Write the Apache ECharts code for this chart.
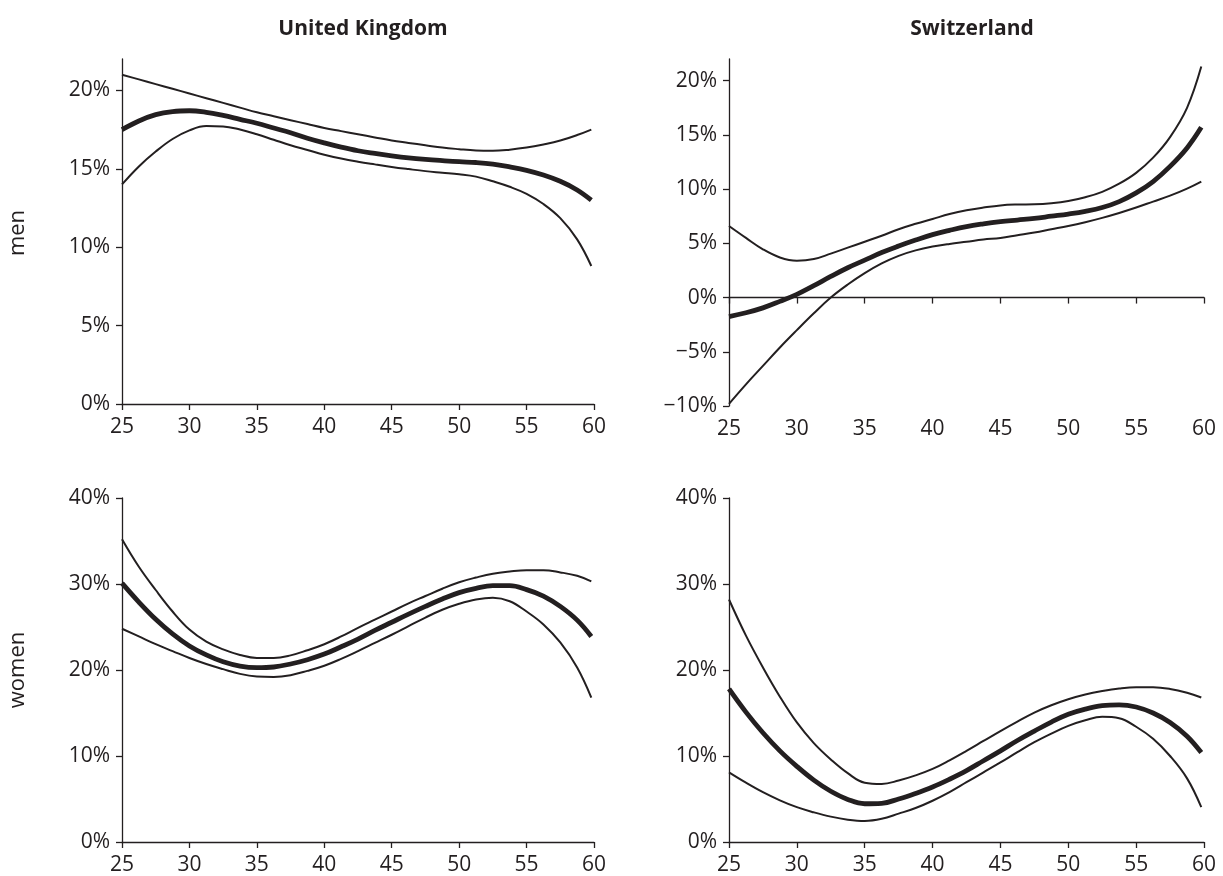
<!DOCTYPE html>
<html>
<head>
<meta charset="utf-8">
<script src="https://cdn.jsdelivr.net/npm/echarts@6/dist/echarts.min.js"></script>
<style>
html,body{margin:0;padding:0;background:#fff;}
#chart{width:1223px;height:876px;}
</style>
</head>
<body>
<div id="chart"></div>
<script>
// ---- data ----
const ages = [25, 26.25, 27.5, 28.75, 30, 31.25, 32.5, 33.75, 35, 36.25, 37.5, 38.75, 40, 41.25, 42.5,
              43.75, 45, 46.25, 47.5, 48.75, 50, 51.25, 52.5, 53.75, 55, 56.25, 57.5, 58.75, 59.8];
const xTicks = [25, 30, 35, 40, 45, 50, 55, 60];
const colTitles = ['United Kingdom', 'Switzerland'];
const rowTitles = ['men', 'women'];
const menTicksUK = [0, 5, 10, 15, 20];
const menTicksCH = [-10, -5, 0, 5, 10, 15, 20];
const womenTicks = [0, 10, 20, 30, 40];

const ukMenUpper = [21.0, 20.7, 20.4, 20.1, 19.8, 19.5, 19.2, 18.9, 18.6, 18.35, 18.1, 17.85, 17.6, 17.4, 17.2,
                    17.0, 16.8, 16.65, 16.5, 16.35, 16.25, 16.17, 16.15, 16.22, 16.35, 16.55, 16.8, 17.15, 17.5];
const ukMenMid   = [17.5, 18.05, 18.45, 18.65, 18.7, 18.6, 18.4, 18.15, 17.9, 17.6, 17.3, 16.95, 16.65, 16.38, 16.15,
                    15.98, 15.83, 15.7, 15.6, 15.52, 15.45, 15.4, 15.3, 15.12, 14.9, 14.6, 14.2, 13.65, 13.0];
const ukMenLower = [14.0, 15.15, 16.1, 16.9, 17.45, 17.72, 17.7, 17.5, 17.2, 16.85, 16.5, 16.2, 15.9, 15.65, 15.45,
                    15.28, 15.12, 14.98, 14.85, 14.75, 14.65, 14.5, 14.2, 13.85, 13.4, 12.75, 11.85, 10.5, 8.8];

const chMenUpper = [6.6, 5.5, 4.45, 3.7, 3.4, 3.55, 4.05, 4.6, 5.15, 5.7, 6.3, 6.8, 7.25, 7.7, 8.05,
                    8.3, 8.5, 8.58, 8.6, 8.7, 8.9, 9.25, 9.75, 10.5, 11.5, 12.9, 14.8, 17.5, 21.3];
const chMenMid   = [-1.75, -1.4, -0.95, -0.35, 0.3, 1.1, 1.95, 2.75, 3.45, 4.15, 4.75, 5.3, 5.8, 6.2, 6.55,
                    6.8, 7.0, 7.15, 7.3, 7.5, 7.7, 7.95, 8.3, 8.85, 9.65, 10.7, 12.1, 13.8, 15.7];
const chMenLower = [-9.8, -8.0, -6.3, -4.6, -3.0, -1.45, 0.0, 1.2, 2.25, 3.15, 3.85, 4.35, 4.7, 4.95, 5.15,
                    5.35, 5.5, 5.75, 6.0, 6.3, 6.6, 6.95, 7.35, 7.8, 8.3, 8.85, 9.4, 10.05, 10.7];

const ukWomenUpper = [35.2, 32.0, 29.3, 26.8, 24.7, 23.3, 22.4, 21.75, 21.4, 21.4, 21.7, 22.3, 23.0, 23.9, 24.9,
                      25.85, 26.8, 27.75, 28.6, 29.45, 30.2, 30.75, 31.2, 31.45, 31.6, 31.6, 31.35, 30.95, 30.3];
const ukWomenMid   = [30.1, 27.9, 25.9, 24.2, 22.8, 21.75, 20.95, 20.45, 20.27, 20.35, 20.7, 21.2, 21.85, 22.7, 23.6,
                      24.6, 25.55, 26.5, 27.4, 28.25, 29.0, 29.5, 29.8, 29.8, 29.35, 28.6, 27.4, 25.8, 23.9];
const ukWomenLower = [24.8, 23.9, 23.0, 22.2, 21.4, 20.7, 20.1, 19.55, 19.25, 19.2, 19.4, 19.9, 20.5, 21.3, 22.2,
                      23.15, 24.1, 25.1, 26.1, 27.0, 27.7, 28.2, 28.4, 28.0, 26.8, 25.3, 23.2, 20.3, 16.8];

const chWomenUpper = [28.2, 24.0, 20.3, 16.9, 13.9, 11.5, 9.6, 8.0, 6.9, 6.75, 7.15, 7.75, 8.5, 9.5, 10.6,
                      11.75, 12.9, 14.0, 15.05, 15.9, 16.6, 17.15, 17.55, 17.85, 18.0, 18.0, 17.8, 17.35, 16.8];
const chWomenMid   = [17.8, 15.1, 12.7, 10.6, 8.8, 7.2, 5.9, 4.95, 4.45, 4.5, 5.0, 5.65, 6.4, 7.3, 8.3,
                      9.45, 10.6, 11.8, 12.9, 13.95, 14.85, 15.45, 15.85, 15.95, 15.7, 15.0, 13.9, 12.3, 10.4];
const chWomenLower = [8.1, 6.9, 5.8, 4.85, 4.05, 3.45, 2.95, 2.6, 2.45, 2.7, 3.3, 3.95, 4.8, 5.8, 6.95,
                      8.1, 9.25, 10.45, 11.6, 12.6, 13.5, 14.15, 14.55, 14.4, 13.4, 12.0, 10.0, 7.4, 4.05];

// ---- chart ----
const INK = '#231f20';
const FONT = 'Open Sans';
const chart = echarts.init(document.getElementById('chart'));

function pts(vals) { return ages.map((a, i) => [a, vals[i]]); }
function pctFmt(v) { return (v < 0 ? '\u2212' + Math.abs(v) : v) + '%'; }

const grids = [
  { left: 122, width: 472, top: 59, height: 345 },
  { left: 729, width: 475, top: 59, height: 347 },
  { left: 122, width: 472, top: 498, height: 345 },
  { left: 729, width: 475, top: 498, height: 345 }
];

const axisTick = { show: true, inside: false, length: 6, lineStyle: { color: INK, width: 1.3 } };
const labelStyle = { color: INK, fontFamily: FONT, fontSize: 21 };

function xAx(gi, opts) {
  return Object.assign({
    type: 'value', gridIndex: gi, min: 25, max: 60, interval: 5, position: 'bottom',
    splitLine: { show: false },
    axisLine: { show: true, onZero: false, lineStyle: { color: INK, width: 1.3 } },
    axisTick: Object.assign({}, axisTick, { customValues: xTicks }),
    axisLabel: Object.assign({}, labelStyle, { margin: 13, customValues: xTicks })
  }, opts || {});
}
function yAx(gi, min, max, interval, ticks) {
  return {
    type: 'value', gridIndex: gi, min: min, max: max, interval: interval,
    splitLine: { show: false },
    axisLine: { show: true, onZero: false, lineStyle: { color: INK, width: 1.3 } },
    axisTick: Object.assign({}, axisTick, { customValues: ticks }),
    axisLabel: Object.assign({}, labelStyle, { margin: 12, formatter: pctFmt, customValues: ticks })
  };
}

const xAxes = [
  xAx(0),
  xAx(1, { axisLabel: { show: false }, axisLine: { show: true, onZero: true, lineStyle: { color: INK, width: 1.3 } } }),
  xAx(2),
  xAx(3),
  xAx(1, { axisLine: { show: false }, axisTick: { show: false } })
];
const yAxes = [
  yAx(0, 0, 22, 5, menTicksUK),
  yAx(1, -10, 22, 5, menTicksCH),
  yAx(2, 0, 40, 10, womenTicks),
  yAx(3, 0, 40, 10, womenTicks)
];

function line(idx, vals, thick) {
  return {
    type: 'line', xAxisIndex: idx, yAxisIndex: idx, data: pts(vals),
    smooth: 0.4, smoothConstraint: false, symbol: 'none', silent: true,
    lineStyle: { color: INK, width: thick ? 4.8 : 2, cap: 'butt' }
  };
}

const panels = [
  [ukMenUpper, ukMenMid, ukMenLower],
  [chMenUpper, chMenMid, chMenLower],
  [ukWomenUpper, ukWomenMid, ukWomenLower],
  [chWomenUpper, chWomenMid, chWomenLower]
];
const series = [];
panels.forEach((p, i) => {
  series.push(line(i, p[0], false));
  series.push(line(i, p[2], false));
  series.push(line(i, p[1], true));
});

const titles = colTitles.map((t, i) => ({
  text: t, left: (i === 0 ? 358 : 967), top: 14, textAlign: 'center',
  textStyle: { color: INK, fontFamily: FONT, fontSize: 21, fontWeight: 'bold' }
}));

const graphics = rowTitles.map((t, i) => ({
  type: 'text', x: 18, y: (i === 0 ? 233 : 670), rotation: Math.PI / 2,
  style: { text: t, fill: INK, font: '22px "' + FONT + '"', align: 'center', verticalAlign: 'middle' }
}));

chart.setOption({
  animation: false,
  backgroundColor: '#fff',
  title: titles,
  grid: grids,
  xAxis: xAxes,
  yAxis: yAxes,
  graphic: graphics,
  series: series
});
</script>
</body>
</html>
